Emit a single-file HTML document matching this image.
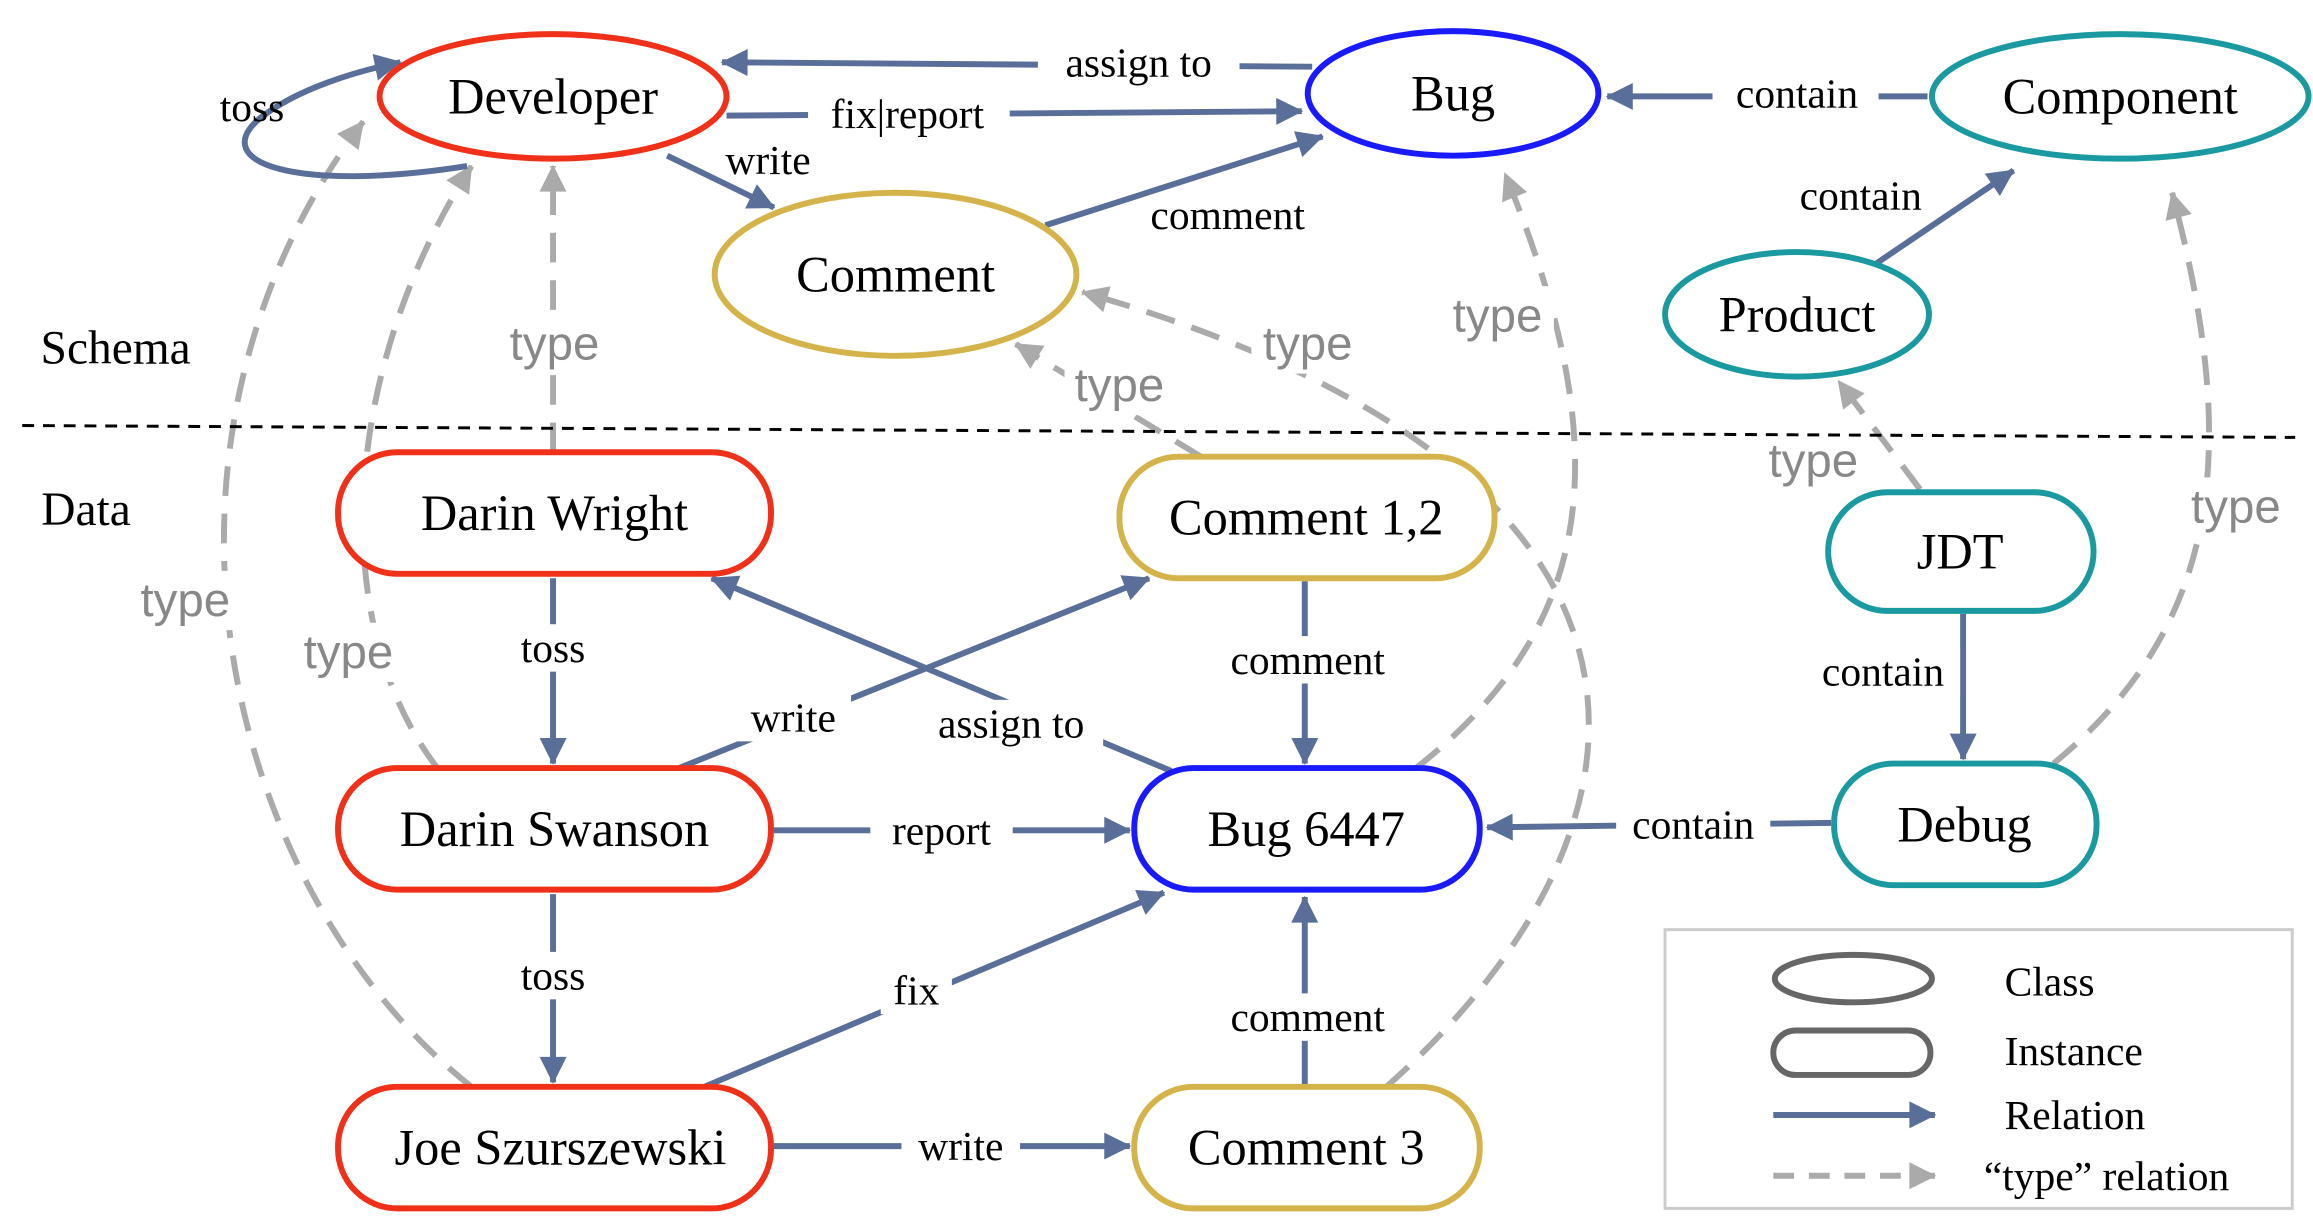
<!DOCTYPE html>
<html><head><meta charset="utf-8"><style>
html,body{margin:0;padding:0;background:#fff;width:2313px;height:1221px;overflow:hidden}
svg{display:block}
.n{font-family:"Liberation Serif",serif;font-size:34px;fill:#000;text-anchor:middle;dominant-baseline:central}
.e{font-family:"Liberation Serif",serif;font-size:28px;fill:#000;text-anchor:middle;dominant-baseline:central}
.t{font-family:"Liberation Sans",sans-serif;font-size:32px;fill:#888;text-anchor:middle;dominant-baseline:central}
.r{stroke:#5a6e9a;stroke-width:4;fill:none}
.d{stroke:#aaa;stroke-width:4;fill:none;stroke-dasharray:20 12}
</style></head><body>
<svg width="2313" height="1221" viewBox="0 0 1560 823.5" preserveAspectRatio="none">
<defs>
<marker id="a" viewBox="0 0 10 10" refX="9" refY="5" markerWidth="7" markerHeight="7" markerUnits="userSpaceOnUse" orient="auto" style="overflow:visible"><path d="M0,0 L10,5 L0,10 z" fill="#5a6e9a" transform="scale(2.6) translate(-6,-3.1)"/></marker>
<marker id="g" viewBox="0 0 10 10" refX="9" refY="5" markerWidth="7" markerHeight="7" markerUnits="userSpaceOnUse" orient="auto" style="overflow:visible"><path d="M0,0 L10,5 L0,10 z" fill="#aaa" transform="scale(2.6) translate(-6,-3.1)"/></marker>
</defs>
<text x="78" y="235" class="n" style="font-size:32px">Schema</text>
<text x="58" y="344" class="n" style="font-size:32px">Data</text>

<!-- type edges -->
<line class="d" x1="373" y1="305" x2="373" y2="112" marker-end="url(#g)"/>
<path class="d" d="M295,518 C220,420 230,250 318,112" marker-end="url(#g)"/>
<path class="d" d="M318,733 C150,600 80,300 245,82" marker-end="url(#g)"/>
<line class="d" x1="810" y1="308" x2="685" y2="232" marker-end="url(#g)"/>
<path class="d" d="M935,733 C1130,560 1160,320 730,197" marker-end="url(#g)"/>
<path class="d" d="M955,518 C1080,420 1090,300 1015,117" marker-end="url(#g)"/>
<line class="d" x1="1295" y1="330" x2="1240" y2="257" marker-end="url(#g)"/>
<path class="d" d="M1385,515 C1500,420 1510,300 1465,130" marker-end="url(#g)"/>

<!-- relations -->
<line class="r" x1="885" y1="45" x2="487" y2="42" marker-end="url(#a)"/>
<line class="r" x1="490" y1="78" x2="878" y2="75" marker-end="url(#a)"/>
<line class="r" x1="450" y1="105" x2="522" y2="140" marker-end="url(#a)"/>
<line class="r" x1="705" y1="152" x2="892" y2="92" marker-end="url(#a)"/>
<line class="r" x1="1300" y1="65" x2="1084" y2="65" marker-end="url(#a)"/>
<line class="r" x1="1265" y1="178" x2="1358" y2="115" marker-end="url(#a)"/>
<path class="r" d="M315,112 C200,130 140,110 175,80 C200,60 240,48 270,42" marker-end="url(#a)"/>
<line class="r" x1="373" y1="390" x2="373" y2="515" marker-end="url(#a)"/>
<line class="r" x1="373" y1="603" x2="373" y2="730" marker-end="url(#a)"/>
<line class="r" x1="458" y1="518" x2="775" y2="390" marker-end="url(#a)"/>
<line class="r" x1="790" y1="520" x2="480" y2="390" marker-end="url(#a)"/>
<line class="r" x1="880" y1="392" x2="880" y2="515" marker-end="url(#a)"/>
<line class="r" x1="522" y1="560" x2="762" y2="560" marker-end="url(#a)"/>
<line class="r" x1="475" y1="733" x2="785" y2="602" marker-end="url(#a)"/>
<line class="r" x1="880" y1="733" x2="880" y2="605" marker-end="url(#a)"/>
<line class="r" x1="522" y1="773" x2="762" y2="773" marker-end="url(#a)"/>
<line class="r" x1="1235" y1="555" x2="1003" y2="558" marker-end="url(#a)"/>
<line class="r" x1="1324" y1="414" x2="1324" y2="512" marker-end="url(#a)"/>

<!-- edge labels -->
<g fill="#fff">
<rect x="700" y="26" width="136" height="32"/><rect x="545" y="61" width="136" height="32"/>
<rect x="1155" y="47" width="112" height="32"/><rect x="340" y="421" width="66" height="32"/>
<rect x="340" y="642" width="66" height="32"/><rect x="496" y="468" width="78" height="32"/>
<rect x="622" y="472" width="122" height="32"/><rect x="818" y="429" width="128" height="32"/>
<rect x="587" y="544" width="96" height="32"/><rect x="594" y="652" width="48" height="32"/>
<rect x="818" y="670" width="128" height="32"/><rect x="608" y="757" width="80" height="32"/>
<rect x="1090" y="540" width="104" height="32"/><rect x="1218" y="437" width="104" height="32"/>
<rect x="330" y="212" width="88" height="40"/><rect x="200" y="420" width="76" height="40"/>
<rect x="88" y="385" width="76" height="40"/><rect x="718" y="240" width="76" height="40"/>
<rect x="844" y="212" width="76" height="40"/><rect x="972" y="193" width="76" height="40"/>
<rect x="1186" y="296" width="76" height="36"/><rect x="1470" y="322" width="76" height="40"/>
</g>
<line x1="15" y1="287" x2="1548" y2="295" stroke="#000" stroke-width="2" stroke-dasharray="8 6"/>
<text class="e" x="768" y="42">assign to</text><text class="e" x="612" y="77">fix|report</text>
<text class="e" x="518" y="108">write</text><text class="e" x="828" y="145">comment</text>
<text class="e" x="1212" y="63">contain</text><text class="e" x="1255" y="132">contain</text>
<text class="e" x="170" y="72">toss</text><text class="e" x="373" y="437">toss</text>
<text class="e" x="373" y="658">toss</text><text class="e" x="535" y="484">write</text>
<text class="e" x="682" y="488">assign to</text><text class="e" x="882" y="445">comment</text>
<text class="e" x="635" y="560">report</text><text class="e" x="618" y="668">fix</text>
<text class="e" x="882" y="686">comment</text><text class="e" x="648" y="773">write</text>
<text class="e" x="1142" y="556">contain</text><text class="e" x="1270" y="453">contain</text>
<text class="t" x="374" y="232">type</text><text class="t" x="235" y="440">type</text>
<text class="t" x="125" y="405">type</text><text class="t" x="755" y="260">type</text>
<text class="t" x="882" y="232">type</text><text class="t" x="1010" y="213">type</text>
<text class="t" x="1223" y="311">type</text><text class="t" x="1508" y="342">type</text>

<!-- nodes -->
<g stroke-width="4" fill="#fff">
<ellipse cx="373" cy="65" rx="117" ry="42" stroke="#f03018"/>
<ellipse cx="980" cy="63" rx="98" ry="42" stroke="#1a1aff"/>
<ellipse cx="1430" cy="65" rx="127" ry="42" stroke="#1a9aa0"/>
<ellipse cx="604" cy="185" rx="122" ry="55" stroke="#d4b44a"/>
<ellipse cx="1212" cy="212" rx="89" ry="42" stroke="#1a9aa0"/>
<rect x="228" y="305" width="292" height="82" rx="40" stroke="#f03018"/>
<rect x="755" y="308" width="253" height="82" rx="40" stroke="#d4b44a"/>
<rect x="1233" y="332" width="179" height="80" rx="40" stroke="#1a9aa0"/>
<rect x="228" y="518" width="292" height="82" rx="40" stroke="#f03018"/>
<rect x="765" y="518" width="233" height="82" rx="40" stroke="#1a1aff"/>
<rect x="1237" y="515" width="177" height="82" rx="40" stroke="#1a9aa0"/>
<rect x="228" y="733" width="292" height="82" rx="40" stroke="#f03018"/>
<rect x="765" y="733" width="233" height="82" rx="40" stroke="#d4b44a"/>
</g>
<text class="n" x="373" y="65">Developer</text><text class="n" x="980" y="63">Bug</text>
<text class="n" x="1430" y="65">Component</text><text class="n" x="604" y="185">Comment</text>
<text class="n" x="1212" y="212">Product</text><text class="n" x="374" y="346">Darin Wright</text>
<text class="n" x="881" y="349">Comment 1,2</text><text class="n" x="1322" y="372">JDT</text>
<text class="n" x="374" y="559">Darin Swanson</text><text class="n" x="881" y="559">Bug 6447</text>
<text class="n" x="1325" y="556">Debug</text><text class="n" x="378" y="774">Joe Szurszewski</text>
<text class="n" x="881" y="774">Comment 3</text>

<!-- legend -->
<rect x="1123" y="627" width="423" height="188" fill="#fff" stroke="#ccc" stroke-width="2"/>
<ellipse cx="1250" cy="660" rx="53" ry="16" fill="none" stroke="#666" stroke-width="4"/>
<rect x="1196" y="695" width="106" height="30" rx="15" fill="none" stroke="#666" stroke-width="4"/>
<line class="r" x1="1196" y1="752" x2="1305" y2="752" marker-end="url(#a)"/>
<line class="d" x1="1196" y1="793" x2="1305" y2="793" marker-end="url(#g)" style="stroke-dasharray:14 10"/>
<text x="1352" y="662" class="e" style="text-anchor:start">Class</text>
<text x="1352" y="709" class="e" style="text-anchor:start">Instance</text>
<text x="1352" y="752" class="e" style="text-anchor:start">Relation</text>
<text x="1338" y="793" class="e" style="text-anchor:start">“type” relation</text>
</svg>
</body></html>
